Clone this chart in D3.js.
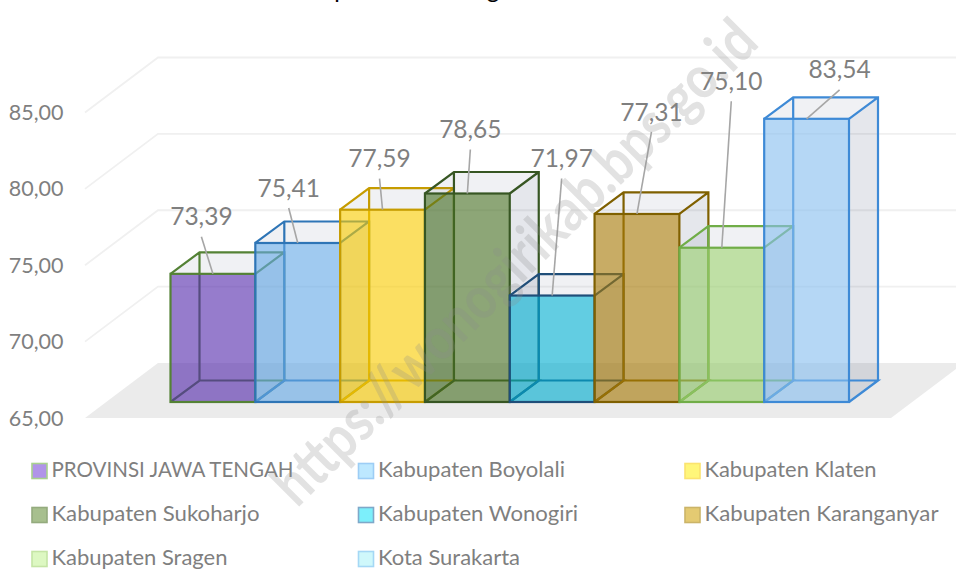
<!DOCTYPE html>
<html><head><meta charset="utf-8">
<script src="https://cdn.jsdelivr.net/npm/d3@7"></script>
<style>html,body{margin:0;padding:0;background:#fff}svg{display:block}text{font-family:Lato,"Open Sans",sans-serif}</style>
</head><body><svg id="c" width="956" height="570"></svg>
<script>
const categories=["PROVINSI JAWA TENGAH","Kabupaten Boyolali","Kabupaten Klaten","Kabupaten Sukoharjo","Kabupaten Wonogiri","Kabupaten Karanganyar","Kabupaten Sragen","Kota Surakarta"];
const values=[73.39,75.41,77.59,78.65,71.97,77.31,75.10,83.54];
const ticks=[65,70,75,80,85];
const frontColors=["#562bad","#66aae7","#f9cb02","#476f24","#02aed0","#a67907","#98cd6e","#88beef"];
const edgeColors=["#548235","#2e75b6","#c69c00","#375623","#1f4e79","#7f6000","#70ad47","#3e8ad6"];
const legendFill=["#b094e8","#bde8ff","#fff67a","#a7bf8e","#7ceffb","#e4ca72","#ddf8c2","#cff8fb"];
const legendEdge=["#a9d18e","#9dcdf5","#fbe36f","#94ab7e","#7fa8c9","#cbb468","#c5e5a5","#a5d8f5"];
const legendTextWidths=[242,187,172,208,200,234,176,142];
const leaderOffsets=[[-11.5,-37],[-9,-35],[-3,-31],[3,-44],[9.5,-117],[14.5,-82],[9.5,-146.5],[33,-29]];

const fmt=v=>v.toFixed(2).replace(".",",");
const svg=d3.select("#c");
const y=d3.scaleLinear().domain([65,85]).range([418,112.5]);
const x=d3.scaleBand().domain(categories).range([170.5,849]);
const depthX=73,depthY=55,inset=16,bx=29,by=21.5;
const W=x.bandwidth();

// title fragments: only the descenders are inside the picture
svg.selectAll("text.t").data([["p",341],["g",493]]).join("text").attr("class","t")
 .attr("x",d=>d[1]).attr("y",-2).attr("text-anchor","middle").attr("font-size",24).attr("fill","#000").text(d=>d[0]);

// floor & grid
svg.append("polygon").attr("fill","#ebebeb")
 .attr("points",[[85,y(65)],[85+depthX,y(65)-depthY],[956+8,y(65)-depthY],[891,y(65)]].join(" "));
const grid=svg.append("g").attr("fill","none").attr("stroke","#f0f0f0").attr("stroke-width",1.8);
ticks.slice(1).forEach(t=>grid.append("path").attr("d",d3.line()([[85,y(t)],[85+depthX,y(t)-depthY],[956,y(t)-depthY]])));
svg.append("g").selectAll("text").data(ticks).join("text")
 .attr("x",63.5).attr("y",d=>y(d)).attr("dy","0.35em").attr("text-anchor","end")
 .attr("font-size",21.5).attr("fill","#7f7f7f").text(fmt);

const bars=categories.map((c,i)=>({c,i,v:values[i],x0:x(c),x1:x(c)+W,b:y(65)-inset,t:y(values[i])-inset}));
const L=d3.line();
const g=svg.append("g");
bars.forEach(d=>{
 const s=edgeColors[d.i];
 g.append("path").attr("fill","#2a3a60").attr("fill-opacity",.07)
  .attr("d",L([[d.x0,d.t],[d.x0+bx,d.t-by],[d.x1+bx,d.t-by],[d.x1,d.t]])+"Z");
 g.append("path").attr("fill","#2a3a60").attr("fill-opacity",.12)
  .attr("d",L([[d.x1,d.t],[d.x1+bx,d.t-by],[d.x1+bx,d.b-by],[d.x1,d.b]])+"Z");
 g.append("path").attr("fill","none").attr("stroke",s).attr("stroke-width",2.2)
  .attr("d",L([[d.x0,d.b],[d.x0+bx,d.b-by],[d.x1+bx,d.b-by],[d.x1,d.b]])
   +L([[d.x0+bx,d.b-by],[d.x0+bx,d.t-by]])
   +L([[d.x0,d.t],[d.x0+bx,d.t-by],[d.x1+bx,d.t-by],[d.x1+bx,d.b-by]])
   +L([[d.x1,d.t],[d.x1+bx,d.t-by]]));
 g.append("rect").attr("x",d.x0).attr("y",d.t).attr("width",W).attr("height",d.b-d.t)
  .attr("fill",frontColors[d.i]).attr("fill-opacity",.62)
  .attr("stroke",s).attr("stroke-width",2.2);
});
// leaders & labels
const lab=svg.append("g");
bars.forEach(d=>{
 const ax=d.x0+W/2,ay=d.t,[ox,oy]=leaderOffsets[d.i];
 lab.append("line").attr("x1",ax).attr("y1",ay).attr("x2",ax+ox).attr("y2",ay+oy).attr("stroke","#a6a6a6").attr("stroke-width",1.6);
 lab.append("text").attr("x",ax+ox).attr("y",ay+oy-20).attr("dy","0.35em").attr("text-anchor","middle")
  .attr("font-size",24.5).attr("fill","#7f7f7f").text(fmt(d.v));
});
// legend
const colX=[31.5,358,684.5],rowY=[471,515,559];
const leg=svg.append("g").selectAll("g").data(categories).join("g")
 .attr("transform",(d,i)=>`translate(${colX[i%3]},${rowY[Math.floor(i/3)]})`);
leg.append("rect").attr("x",0.5).attr("y",-7.5).attr("width",15).attr("height",15)
 .attr("fill",(d,i)=>legendFill[i]).attr("stroke",(d,i)=>legendEdge[i]).attr("stroke-width",1.6);
leg.append("text").attr("x",20).attr("dy","0.3em").attr("font-size",21).attr("fill","#7f7f7f")
 .attr("textLength",(d,i)=>legendTextWidths[i]).attr("lengthAdjust","spacingAndGlyphs").text(d=>d);
// watermark
svg.append("text").attr("transform","translate(514,262) rotate(-45)")
 .attr("text-anchor","middle").attr("dy","0.35em").attr("font-size",60).attr("font-weight",700)
 .attr("textLength",656).attr("lengthAdjust","spacingAndGlyphs")
 .attr("fill","#8c8c8c").attr("fill-opacity",.25).text("https://wonogirikab.bps.go.id");
</script></body></html>
